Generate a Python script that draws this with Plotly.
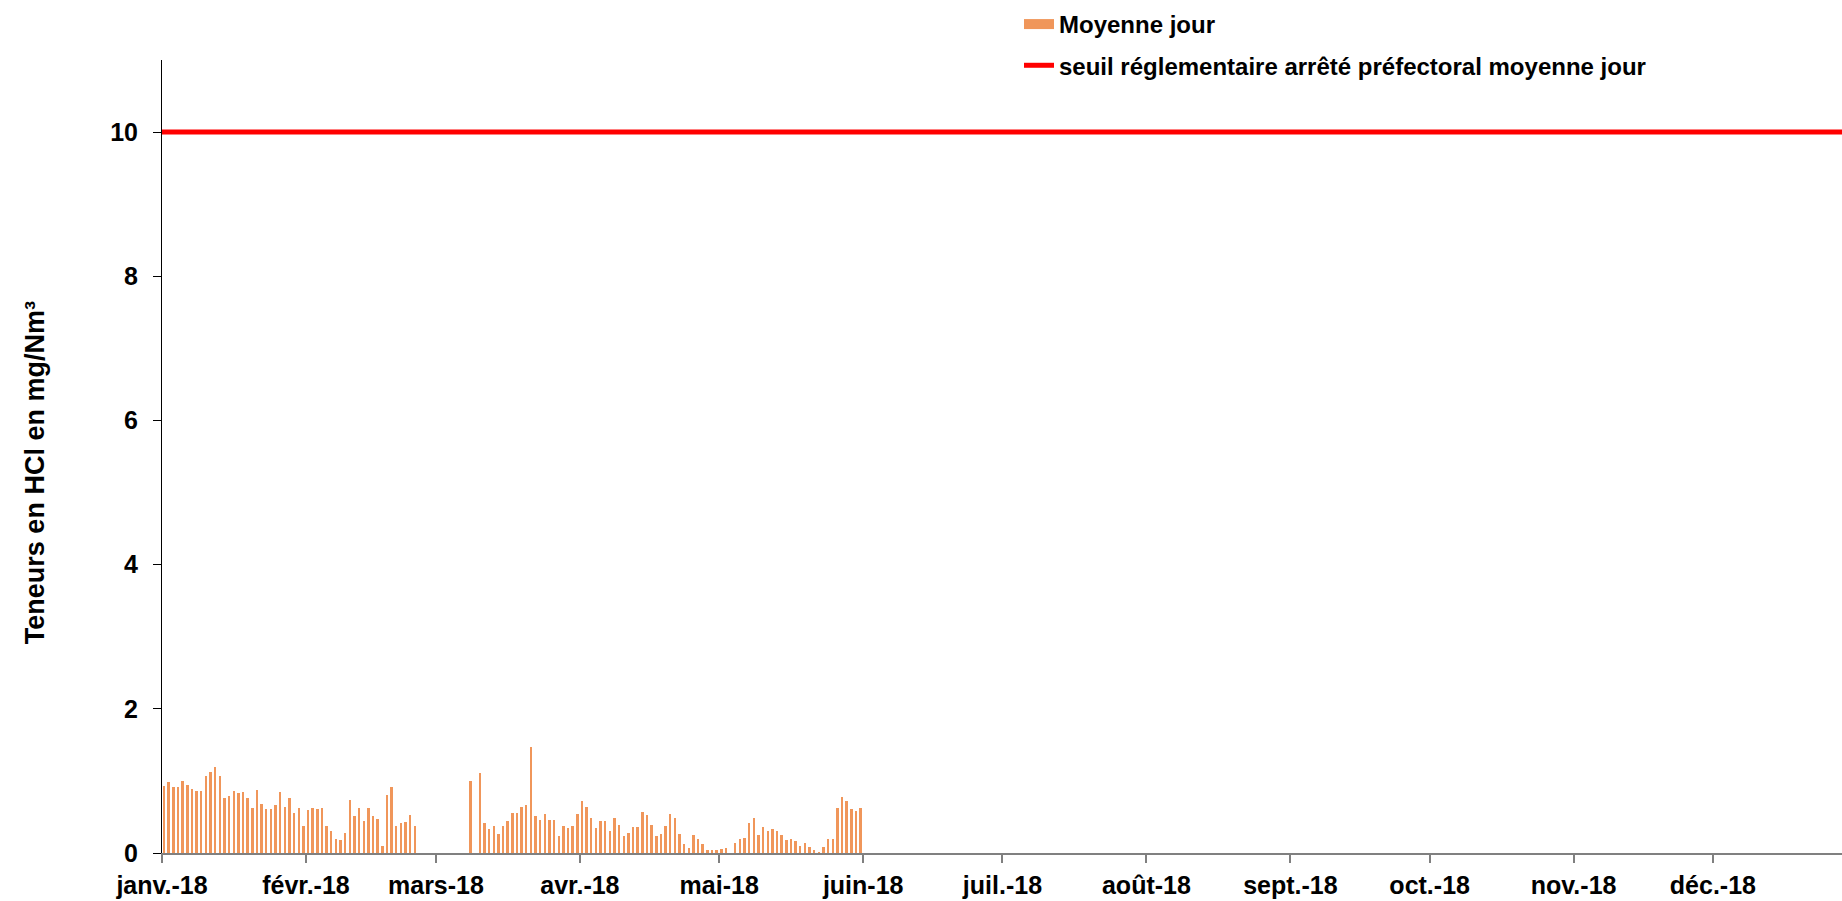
import pandas as pd
import plotly.graph_objects as go

# Daily dates Jan 1 - May 31 2018
dates = pd.date_range("2018-01-01", "2018-05-31", freq="D").strftime("%Y-%m-%d").tolist()

jan = [0.93, 0.985, 0.92, 0.92, 1.00, 0.94, 0.89, 0.86, 0.86, 1.07, 1.13, 1.19, 1.07, 0.76, 0.79,
       0.86, 0.83, 0.85, 0.76, 0.63, 0.88, 0.68, 0.61, 0.61, 0.66, 0.84, 0.64, 0.76, 0.55, 0.62, 0.37]
feb = [0.59, 0.62, 0.61, 0.62, 0.38, 0.31, 0.20, 0.18, 0.28, 0.73, 0.52, 0.63, 0.44, 0.62, 0.51,
       0.47, 0.10, 0.81, 0.92, 0.37, 0.42, 0.43, 0.53, 0.38, None, None, None, None]
mar = [None, None, None, None, None, None, None, 1.00, None, 1.11, 0.41, 0.33, 0.37, 0.27, 0.37,
       0.45, 0.555, 0.555, 0.64, 0.66, 1.47, 0.52, 0.46, 0.54, 0.46, 0.46, 0.23, 0.38, 0.34, 0.37, 0.54]
apr = [0.72, 0.64, 0.49, 0.34, 0.44, 0.44, 0.31, 0.49, 0.39, 0.23, 0.28, 0.36, 0.36, 0.57, 0.53,
       0.39, 0.24, 0.27, 0.38, 0.54, 0.49, 0.26, 0.12, 0.074, 0.25, 0.20, 0.13, 0.046, 0.046, 0.042]
may = [0.06, 0.074, None, 0.14, 0.19, 0.21, 0.42, 0.49, 0.245, 0.36, 0.31, 0.33, 0.31, 0.245, 0.18,
       0.20, 0.17, 0.10, 0.14, 0.09, 0.046, 0.01, 0.08, 0.20, 0.20, 0.63, 0.78, 0.72, 0.61, 0.58, 0.62]
moyenne_jour = jan + feb + mar + apr + may

seuil_dates = ["2018-01-01", "2018-12-31"]
seuil_values = [10, 10]

month_ticks = ["2018-01-01", "2018-02-01", "2018-03-01", "2018-04-01", "2018-05-01", "2018-06-01",
               "2018-07-01", "2018-08-01", "2018-09-01", "2018-10-01", "2018-11-01", "2018-12-01"]
month_labels = ["janv.-18", "févr.-18", "mars-18", "avr.-18", "mai-18", "juin-18",
                "juil.-18", "août-18", "sept.-18", "oct.-18", "nov.-18", "déc.-18"]
y_title = "Teneurs en HCl en mg/Nm³"

FONT = "Liberation Sans, Arial, sans-serif"
DAY_MS = 86400000

fig = go.Figure()
fig.add_trace(go.Bar(
    x=dates, y=moyenne_jour, name="Moyenne jour",
    marker=dict(color="#F0965A", line=dict(width=0)),
    width=0.42 * DAY_MS, xperiod=DAY_MS, xperiodalignment="middle",
    showlegend=False,
))
# legend entry for the bars (wide rectangle like the original)
fig.add_trace(go.Scatter(
    x=[None], y=[None], mode="lines", name="Moyenne jour",
    line=dict(color="#F0965A", width=12), legendgroup="a",
))
fig.add_trace(go.Scatter(
    x=seuil_dates, y=seuil_values, mode="lines",
    name="seuil réglementaire arrêté préfectoral moyenne jour",
    line=dict(color="#FF0000", width=5), legendgroup="b",
))

x_end = pd.Timestamp("2018-01-01") + pd.Timedelta(days=361.8)

fig.update_layout(
    width=1842, height=901,
    margin=dict(l=162, r=0, t=60, b=48),
    paper_bgcolor="white", plot_bgcolor="white",
    bargap=0,
    font=dict(family=FONT, size=24, color="black", weight="bold"),
    legend=dict(
        x=(1019 - 162) / 1680, y=1 + (60 - 2) / 792.7, xanchor="left", yanchor="top",
        font=dict(family=FONT, size=24, color="black", weight="bold"),
        bgcolor="rgba(0,0,0,0)", tracegroupgap=7, traceorder="grouped",
    ),
    xaxis=dict(
        type="date", range=["2018-01-01", x_end.strftime("%Y-%m-%d %H:%M")],
        tickvals=month_ticks, ticktext=month_labels,
        showgrid=False, zeroline=False,
        showline=True, linecolor="#808080", linewidth=2,
        ticks="outside", ticklen=8, tickwidth=2, tickcolor="#808080",
        tickfont=dict(family=FONT, size=25, color="black", weight="bold"),
        ticklabelstandoff=1, automargin=False,
    ),
    yaxis=dict(
        range=[0, 11], tickvals=[0, 2, 4, 6, 8, 10],
        showgrid=False, zeroline=False,
        showline=True, linecolor="black", linewidth=1,
        ticks="outside", ticklen=8, tickwidth=1, tickcolor="black",
        tickfont=dict(family=FONT, size=25, color="black", weight="bold"),
        ticklabelstandoff=10, automargin=False,
    ),
    annotations=[dict(
        text=y_title, textangle=-90, showarrow=False,
        xref="paper", yref="paper",
        x=(35 - 162) / 1680, y=(852.7 - 473) / 792.7,
        xanchor="center", yanchor="middle",
        font=dict(family=FONT, size=27, color="black", weight="bold"),
    )],
)

fig.write_html(
    "out.html",
    config={"displayModeBar": False},
    post_script="document.body.style.margin='0';document.body.style.overflow='hidden';",
)
